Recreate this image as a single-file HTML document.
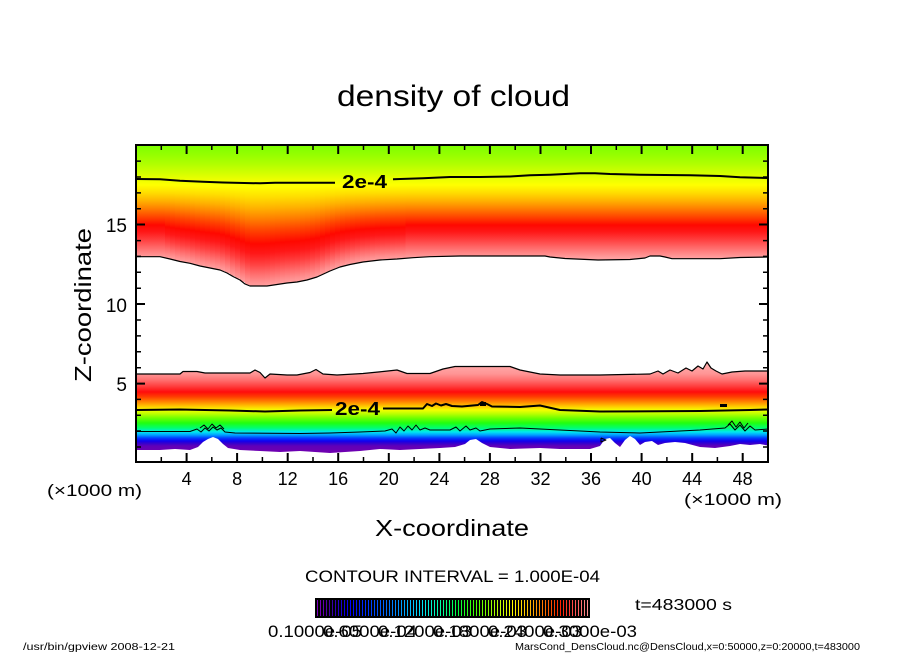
<!DOCTYPE html>
<html><head><meta charset="utf-8"><style>
html,body{margin:0;padding:0;background:#fff;}
svg{display:block;}
text{font-family:"Liberation Sans",sans-serif;fill:#000;}
</style></head><body>
<svg width="904" height="654" viewBox="0 0 904 654" xmlns="http://www.w3.org/2000/svg">
<defs>
<linearGradient id="gU" gradientUnits="userSpaceOnUse" x1="0" y1="145" x2="0" y2="258">
<stop offset="0" stop-color="#7cff00"/>
<stop offset=".0885" stop-color="#96ff00"/>
<stop offset=".177" stop-color="#b4ff00"/>
<stop offset=".265" stop-color="#daff00"/>
<stop offset=".310" stop-color="#eeff00"/>
<stop offset=".354" stop-color="#ffff00"/>
<stop offset=".425" stop-color="#ffdc00"/>
<stop offset=".496" stop-color="#ffb000"/>
<stop offset=".566" stop-color="#ff7c00"/>
<stop offset=".637" stop-color="#ff4400"/>
<stop offset=".708" stop-color="#ff0800"/>
<stop offset=".770" stop-color="#ff1818"/>
<stop offset=".841" stop-color="#ff4040"/>
<stop offset=".912" stop-color="#ff6c6c"/>
<stop offset=".965" stop-color="#ff8c8c"/>
<stop offset="1" stop-color="#ffa0a0"/>
</linearGradient>
<linearGradient id="gS" x1="0" y1="0" x2="0" y2="1">
<stop offset="0" stop-color="#eeff00"/>
<stop offset=".064" stop-color="#ffff00"/>
<stop offset=".167" stop-color="#ffdc00"/>
<stop offset=".269" stop-color="#ffb000"/>
<stop offset=".372" stop-color="#ff7c00"/>
<stop offset=".474" stop-color="#ff4400"/>
<stop offset=".60" stop-color="#ff0800"/>
<stop offset=".69" stop-color="#ff1818"/>
<stop offset=".79" stop-color="#ff4040"/>
<stop offset=".88" stop-color="#ff6c6c"/>
<stop offset=".95" stop-color="#ff8c8c"/>
<stop offset="1" stop-color="#ffa0a0"/>
</linearGradient>
<linearGradient id="gL" gradientUnits="userSpaceOnUse" x1="0" y1="366" x2="0" y2="452">
<stop offset="0" stop-color="#ffa8a8"/>
<stop offset=".093" stop-color="#ff9494"/>
<stop offset=".163" stop-color="#ff7070"/>
<stop offset=".233" stop-color="#ff4040"/>
<stop offset=".302" stop-color="#ff0c0c"/>
<stop offset=".360" stop-color="#ff4000"/>
<stop offset=".419" stop-color="#ff8800"/>
<stop offset=".465" stop-color="#ffc400"/>
<stop offset=".512" stop-color="#f4ff00"/>
<stop offset=".558" stop-color="#b8ff00"/>
<stop offset=".605" stop-color="#70ff00"/>
<stop offset=".663" stop-color="#20ff10"/>
<stop offset=".721" stop-color="#00ff70"/>
<stop offset=".767" stop-color="#00e8f0"/>
<stop offset=".802" stop-color="#00a0ff"/>
<stop offset=".837" stop-color="#0040ff"/>
<stop offset=".872" stop-color="#1000f0"/>
<stop offset=".895" stop-color="#3000d0"/>
<stop offset=".93" stop-color="#6000b8"/>
<stop offset="1" stop-color="#7000b0"/>
</linearGradient>
<linearGradient id="gC" gradientUnits="userSpaceOnUse" x1="317" y1="0" x2="588" y2="0">
<stop offset="0" stop-color="#8000c0"/>
<stop offset=".05" stop-color="#4000a0"/>
<stop offset=".12" stop-color="#0000ff"/>
<stop offset=".2" stop-color="#0040ff"/>
<stop offset=".3" stop-color="#0090ff"/>
<stop offset=".38" stop-color="#00e0ff"/>
<stop offset=".45" stop-color="#00ffb0"/>
<stop offset=".52" stop-color="#00ff40"/>
<stop offset=".58" stop-color="#40ff00"/>
<stop offset=".65" stop-color="#a0ff00"/>
<stop offset=".72" stop-color="#ffff00"/>
<stop offset=".78" stop-color="#ffc000"/>
<stop offset=".84" stop-color="#ff7000"/>
<stop offset=".9" stop-color="#ff2000"/>
<stop offset=".95" stop-color="#ff5050"/>
<stop offset="1" stop-color="#ff9090"/>
</linearGradient>
<pattern id="stripes" patternUnits="userSpaceOnUse" x="317" y="600" width="3" height="16">
<rect x="1" y="0" width="2" height="16" fill="#000"/>
</pattern>
</defs>

<text x="337" y="106" font-size="30" textLength="233" lengthAdjust="spacingAndGlyphs">density of cloud</text>

<rect x="136" y="145" width="632" height="118" fill="url(#gU)"/>
<g fill="url(#gS)">
<rect x="165" y="180" width="5.5" height="78.4"/>
<rect x="170" y="180" width="5.5" height="79.6"/>
<rect x="175" y="180" width="5.5" height="80.9"/>
<rect x="180" y="180" width="5.5" height="82"/>
<rect x="185" y="180" width="5.5" height="82.9"/>
<rect x="190" y="180" width="5.5" height="84"/>
<rect x="195" y="180" width="5.5" height="85.3"/>
<rect x="200" y="180" width="5.5" height="86.5"/>
<rect x="205" y="180" width="5.5" height="87.5"/>
<rect x="210" y="180" width="5.5" height="88.5"/>
<rect x="215" y="180" width="5.5" height="89.5"/>
<rect x="220" y="180" width="5.5" height="91.1"/>
<rect x="225" y="180" width="5.5" height="93.3"/>
<rect x="230" y="180" width="5.5" height="96.2"/>
<rect x="235" y="180" width="5.5" height="98.7"/>
<rect x="240" y="180" width="5.5" height="102"/>
<rect x="245" y="180" width="5.5" height="105"/>
<rect x="250" y="180" width="15.5" height="106.5"/>
<rect x="265" y="180" width="5.5" height="106"/>
<rect x="270" y="180" width="5.5" height="105.2"/>
<rect x="275" y="180" width="5.5" height="104.4"/>
<rect x="280" y="180" width="5.5" height="103.7"/>
<rect x="285" y="180" width="5.5" height="103"/>
<rect x="290" y="180" width="5.5" height="102.5"/>
<rect x="295" y="180" width="5.5" height="101.9"/>
<rect x="300" y="180" width="5.5" height="100.9"/>
<rect x="305" y="180" width="5.5" height="99.9"/>
<rect x="310" y="180" width="5.5" height="98.4"/>
<rect x="315" y="180" width="5.5" height="96.8"/>
<rect x="320" y="180" width="5.5" height="94.5"/>
<rect x="325" y="180" width="5.5" height="92.2"/>
<rect x="330" y="180" width="5.5" height="90"/>
<rect x="335" y="180" width="5.5" height="88"/>
<rect x="340" y="180" width="5.5" height="86.4"/>
<rect x="345" y="180" width="5.5" height="85.1"/>
<rect x="350" y="180" width="5.5" height="84"/>
<rect x="355" y="180" width="5.5" height="83"/>
<rect x="360" y="180" width="5.5" height="82.1"/>
<rect x="365" y="180" width="5.5" height="81.5"/>
<rect x="370" y="180" width="5.5" height="80.9"/>
<rect x="375" y="180" width="5.5" height="80.3"/>
<rect x="380" y="180" width="5.5" height="79.9"/>
<rect x="385" y="180" width="5.5" height="79.6"/>
<rect x="390" y="180" width="5.5" height="79.3"/>
<rect x="395" y="180" width="5.5" height="79"/>
<rect x="400" y="180" width="5.5" height="78.6"/>
</g>

<rect x="136" y="358" width="632" height="96" fill="url(#gL)"/>

<polygon fill="#fff" points="134,256.7 160,256.7 170,259 180,261.5 190,263.3 200,266 210,268 220,270 227,273 233,276.5 240,280 245,284 250,286 267,286 277,284.5 287,283 297,282 307,280 317,277 330,271 340,267 350,264.5 363,262 380,260 397,259 413,257.7 430,256.7 460,256 545,256 550,257 565,258.5 598,260 630,259.5 645,258 650,256 660,256 665,257 672,258.7 720,258.7 740,257.5 770,257 770,371 745,371 732,372 722,374 716,371 711,368 707,362 703,369 698,366 692,371 686,368 678,373 670,370 663,374 658,371 650,374 600,375 560,375 540,374 520,370 510,366.5 455,366.5 443,369 430,373.5 407,373.5 397,370 383,371.5 363,373.5 337,375 323,374 316,369.5 310,372.5 297,375 287,375 270,374 265,378 260,372.5 255,370 250,373 205,373 197,371.5 183,371.5 180,374 134,374"/>
<polygon fill="#fff" points="134,450 160,450 175,449 190,450 198,447 203,442 208,439 213,437 218,439 223,444 228,448 240,450 260,451 280,452 300,451 330,453 345,452 360,451 380,449 400,450 420,449 440,448 455,447 465,444 470,440 476,439 482,443 490,447 510,449 540,448 560,449 590,449 600,446 605,439 610,438 615,443 620,447 625,440 630,436 635,439 640,445 645,442 652,441 658,445 665,443 675,442 685,443 700,447 715,448 730,446 740,444 750,445 760,444 770,446 770,464 134,464"/>

<g fill="none" stroke="#000" stroke-linejoin="round">
<polyline stroke-width="1.2" points="136,256.7 160,256.7 170,259 180,261.5 190,263.3 200,266 210,268 220,270 227,273 233,276.5 240,280 245,284 250,286 267,286 277,284.5 287,283 297,282 307,280 317,277 330,271 340,267 350,264.5 363,262 380,260 397,259 413,257.7 430,256.7 460,256 545,256 550,257 565,258.5 598,260 630,259.5 645,258 650,256 660,256 665,257 672,258.7 720,258.7 740,257.5 768,257"/>
<polyline stroke-width="1.2" points="136,374 180,374 183,371.5 197,371.5 205,373 250,373 255,370 260,372.5 265,378 270,374 287,375 297,375 310,372.5 316,369.5 323,374 337,375 363,373.5 383,371.5 397,370 407,373.5 430,373.5 443,369 455,366.5 510,366.5 520,370 540,374 560,375 600,375 650,374 658,371 663,374 670,370 678,373 686,368 692,371 698,366 703,369 707,362 711,368 716,371 722,374 732,372 745,371 768,371"/>
<polyline stroke-width="2" points="136,179 160,179.3 180,180.7 203,181.7 223,182.5 260,183.3 275,182.7 335,182.7"/>
<polyline stroke-width="2" points="393,179.3 423,178.3 450,177 480,177 510,176.5 530,175.3 550,174.7 580,173.3 595,173.3 610,174 640,174.7 690,175.3 720,176 740,177.3 768,178"/>
<polyline stroke-width="2" points="136,410 180,409.5 230,410.5 265,411.5 300,410.5 332,410"/>
<polyline stroke-width="2" points="383,408.5 423,408.5 427,404 432,406 436,403.5 441,405.5 446,404 452,406 462,406.5 478,405 482,402 487,404 492,406.5 520,407 540,405.5 560,410 600,411.5 700,411 750,410 768,409.5"/>
<polyline stroke-width="1" points="136,431.5 190,431.5 197,429 201,432 205,428 209,431 213,427 217,430 221,428 225,432 235,433 300,433.5 330,433 360,432 385,431 392,429 396,433 400,427 404,431 408,426 412,430 416,425 420,430 425,428 430,430 450,430 456,427 460,431 466,426 470,430 476,428 480,431 490,429 520,428 560,430 600,432 640,433 680,431 700,430 725,428 730,424 735,430 740,425 745,431 750,426 755,430 768,429"/>
<polyline stroke-width="1" points="200,428 204,425 208,429 212,424 216,428 220,425 224,429"/>
<polyline stroke-width="1" points="728,425 732,421 736,427 740,422 744,428 748,423"/>
<polyline stroke-width="1" points="601,438 606,440 601,442 601,438"/>
</g>
<rect x="480" y="402" width="6" height="4" fill="#000"/>
<rect x="720" y="404" width="7" height="3" fill="#000"/>

<text x="342" y="188" font-size="18" font-weight="bold" textLength="45" lengthAdjust="spacingAndGlyphs">2e-4</text>
<text x="335" y="415" font-size="18" font-weight="bold" textLength="45" lengthAdjust="spacingAndGlyphs">2e-4</text>

<rect x="136" y="145" width="632" height="317" fill="none" stroke="#000" stroke-width="2"/>

<path stroke="#000" stroke-width="2" fill="none" d="
M186.6,462V453 M237.1,462V453 M287.7,462V453 M338.2,462V453 M388.8,462V453 M439.4,462V453 M489.9,462V453 M540.5,462V453 M591,462V453 M641.6,462V453 M692.2,462V453 M742.7,462V453
M186.6,145V154 M237.1,145V154 M287.7,145V154 M338.2,145V154 M388.8,145V154 M439.4,145V154 M489.9,145V154 M540.5,145V154 M591,145V154 M641.6,145V154 M692.2,145V154 M742.7,145V154
M136,383.6H145 M136,304H145 M136,224.5H145
M768,383.6H759 M768,304H759 M768,224.5H759"/>
<path stroke="#000" stroke-width="1.5" fill="none" d="
M161.3,462V457 M211.8,462V457 M262.4,462V457 M313,462V457 M363.5,462V457 M414.1,462V457 M464.6,462V457 M515.2,462V457 M565.8,462V457 M616.3,462V457 M666.9,462V457 M717.4,462V457
M161.3,145V150 M211.8,145V150 M262.4,145V150 M313,145V150 M363.5,145V150 M414.1,145V150 M464.6,145V150 M515.2,145V150 M565.8,145V150 M616.3,145V150 M666.9,145V150 M717.4,145V150
M136,447H141 M136,431H141 M136,415.2H141 M136,399.4H141 M136,367.7H141 M136,351.8H141 M136,335.9H141 M136,320H141 M136,288.2H141 M136,272.3H141 M136,256.4H141 M136,240.6H141 M136,208.7H141 M136,192.9H141 M136,177H141 M136,161.1H141
M768,447H763 M768,431H763 M768,415.2H763 M768,399.4H763 M768,367.7H763 M768,351.8H763 M768,335.9H763 M768,320H763 M768,288.2H763 M768,272.3H763 M768,256.4H763 M768,240.6H763 M768,208.7H763 M768,192.9H763 M768,177H763 M768,161.1H763"/>

<g font-size="19" text-anchor="end">
<text x="127" y="232">15</text>
<text x="127" y="312">10</text>
<text x="127" y="391">5</text>
</g>
<g font-size="18" text-anchor="middle">
<text x="186.6" y="485">4</text>
<text x="237.1" y="485">8</text>
<text x="287.7" y="485">12</text>
<text x="338.2" y="485">16</text>
<text x="388.8" y="485">20</text>
<text x="439.4" y="485">24</text>
<text x="489.9" y="485">28</text>
<text x="540.5" y="485">32</text>
<text x="591" y="485">36</text>
<text x="641.6" y="485">40</text>
<text x="692.2" y="485">44</text>
<text x="742.7" y="485">48</text>
</g>

<text x="47" y="496" font-size="17" textLength="95" lengthAdjust="spacingAndGlyphs">(×1000 m)</text>
<text x="684" y="505" font-size="17" textLength="98" lengthAdjust="spacingAndGlyphs">(×1000 m)</text>

<text x="375" y="536" font-size="23" textLength="154" lengthAdjust="spacingAndGlyphs">X-coordinate</text>
<text transform="translate(91,382) rotate(-90)" font-size="23" textLength="154" lengthAdjust="spacingAndGlyphs">Z-coordinate</text>

<text x="305" y="582" font-size="17" textLength="295" lengthAdjust="spacingAndGlyphs">CONTOUR INTERVAL = 1.000E-04</text>

<rect x="315" y="598" width="275" height="20" fill="#000"/>
<rect x="317" y="600" width="271" height="16" fill="url(#gC)"/>
<rect x="317" y="600" width="271" height="16" fill="url(#stripes)"/>

<text x="635" y="610" font-size="16" textLength="97" lengthAdjust="spacingAndGlyphs">t=483000 s</text>

<g font-size="17" text-anchor="middle">
<text x="315" y="637" textLength="94" lengthAdjust="spacingAndGlyphs">0.1000e-05</text>
<text x="370" y="637" textLength="94" lengthAdjust="spacingAndGlyphs">0.6000e-04</text>
<text x="425" y="637" textLength="94" lengthAdjust="spacingAndGlyphs">0.1200e-03</text>
<text x="480" y="637" textLength="94" lengthAdjust="spacingAndGlyphs">0.1800e-03</text>
<text x="535" y="637" textLength="94" lengthAdjust="spacingAndGlyphs">0.2400e-03</text>
<text x="590" y="637" textLength="94" lengthAdjust="spacingAndGlyphs">0.3000e-03</text>
</g>

<text x="23" y="650" font-size="10" textLength="152" lengthAdjust="spacingAndGlyphs">/usr/bin/gpview   2008-12-21</text>
<text x="515" y="650" font-size="10" textLength="345" lengthAdjust="spacingAndGlyphs">MarsCond_DensCloud.nc@DensCloud,x=0:50000,z=0:20000,t=483000</text>
</svg>
</body></html>
